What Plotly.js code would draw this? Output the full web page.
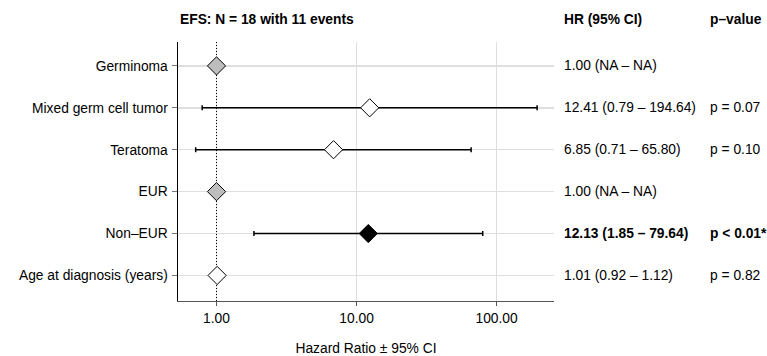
<!DOCTYPE html>
<html>
<head>
<meta charset="utf-8">
<script src="https://cdn.plot.ly/plotly-3.0.1.min.js"></script>
<style>
  html, body { margin: 0; padding: 0; background: #fff; }
  #chart { width: 767px; height: 356px; }
</style>
</head>
<body>
<div id="chart"></div>
<script>
// Cox model: event-free survival, hazard ratios with 95% confidence intervals
const labels = ['Germinoma', 'Mixed germ cell tumor', 'Teratoma', 'EUR', 'Non\u2013EUR', 'Age at diagnosis (years)'];
const hr     = [1.00, 12.41, 6.85, 1.00, 12.13, 1.01];
const lower  = [null, 0.79, 0.71, null, 1.85, 0.92];
const upper  = [null, 194.64, 65.80, null, 79.64, 1.12];
const pText  = ['', 'p = 0.07', 'p = 0.10', '', 'p < 0.01*', 'p = 0.82'];
const rowKind = ['ref', 'ns', 'ns', 'ref', 'sig', 'ns'];   // reference level / not significant / significant
const xTicks = [1, 10, 100];
const xTickText = ['1.00', '10.00', '100.00'];
const refHR = 1;
const headerTitle = 'EFS: N = 18 with 11 events';

const FONT = 'Liberation Sans, Arial, Helvetica, sans-serif';
const FS = 13.8;

const n = labels.length;
const rowY = labels.map((_, i) => n - i);
const fillFor = { ref: '#bdbdbd', ns: '#ffffff', sig: '#000000' };

const fmt = v => (v == null ? 'NA' : v.toFixed(2));
const hrText = hr.map((h, i) => `${fmt(h)} (${fmt(lower[i])} \u2013 ${fmt(upper[i])})`);

const errPlus  = hr.map((h, i) => (upper[i] == null ? NaN : upper[i] - h));
const errMinus = hr.map((h, i) => (lower[i] == null ? NaN : h - lower[i]));

const yRange = [0.39, 6.57];

// dotted line of no effect (HR = 1)
const refLine = {
  type: 'scatter', mode: 'lines',
  x: [refHR, refHR], y: yRange,
  line: { color: '#000', width: 1, dash: '1px,2px' },
  hoverinfo: 'skip', showlegend: false
};

const points = {
  type: 'scatter', mode: 'markers',
  x: hr, y: rowY,
  error_x: {
    type: 'data', symmetric: false,
    array: errPlus, arrayminus: errMinus,
    color: '#000', thickness: 1.5, width: 2.5
  },
  marker: {
    symbol: 'diamond', size: 14,
    color: rowKind.map(k => fillFor[k]),
    line: { color: '#000', width: 1 }
  },
  cliponaxis: false,
  showlegend: false
};

const plotL = 178, plotR = 554, plotT = 42, plotB = 301;
const plotW = plotR - plotL, plotH = plotB - plotT;
const px2paperX = px => (px - plotL) / plotW;
const px2paperY = py => (plotB - py) / plotH;

const annotations = [];
const bold = (s, on) => (on ? `<b>${s}</b>` : s);

rowY.forEach((y, i) => {
  const isSig = rowKind[i] === 'sig';
  annotations.push({
    xref: 'paper', yref: 'y', x: px2paperX(562), y: y,
    xanchor: 'left', yanchor: 'middle', showarrow: false,
    text: bold(hrText[i], isSig), font: { family: FONT, size: FS, color: '#000' }
  });
  if (pText[i]) {
    annotations.push({
      xref: 'paper', yref: 'y', x: px2paperX(708), y: y,
      xanchor: 'left', yanchor: 'middle', showarrow: false,
      text: bold(pText[i], isSig), font: { family: FONT, size: FS, color: '#000' }
    });
  }
});

[[178, headerTitle], [562, 'HR (95% CI)'], [708, 'p\u2013value']].forEach(([px, t]) => {
  annotations.push({
    xref: 'paper', yref: 'paper', x: px2paperX(px), y: px2paperY(20),
    xanchor: 'left', yanchor: 'middle', showarrow: false,
    text: `<b>${t}</b>`, font: { family: FONT, size: FS, color: '#000' }
  });
});

const layout = {
  width: 767, height: 356,
  margin: { l: plotL, r: 767 - plotR, t: plotT, b: 356 - plotB },
  paper_bgcolor: '#fff', plot_bgcolor: '#fff',
  font: { family: FONT, size: FS, color: '#000' },
  xaxis: {
    type: 'log', range: [-0.275, 2.41],
    tickvals: xTicks, ticktext: xTickText,
    showgrid: true, gridcolor: '#dedede', gridwidth: 1,
    zeroline: false,
    showline: true, linecolor: '#555', linewidth: 1,
    ticks: 'outside', ticklen: 4, tickcolor: '#555', tickwidth: 1,
    tickfont: { family: FONT, size: FS, color: '#000' },
    title: { text: 'Hazard Ratio \u00b1 95% CI', standoff: 19, font: { family: FONT, size: FS, color: '#000' } },
    fixedrange: true
  },
  yaxis: {
    range: yRange,
    tickvals: rowY, ticktext: labels,
    showgrid: true, gridcolor: '#dedede', gridwidth: 1.5,
    zeroline: false,
    showline: true, linecolor: '#000', linewidth: 1.5,
    ticks: 'outside', ticklen: 5, tickcolor: '#777', tickwidth: 1,
    ticklabelstandoff: 1,
    tickfont: { family: FONT, size: FS, color: '#000' },
    fixedrange: true
  },
  annotations: annotations,
  showlegend: false
};

Plotly.newPlot('chart', [refLine, points], layout, { displayModeBar: false, staticPlot: true });
</script>
</body>
</html>
